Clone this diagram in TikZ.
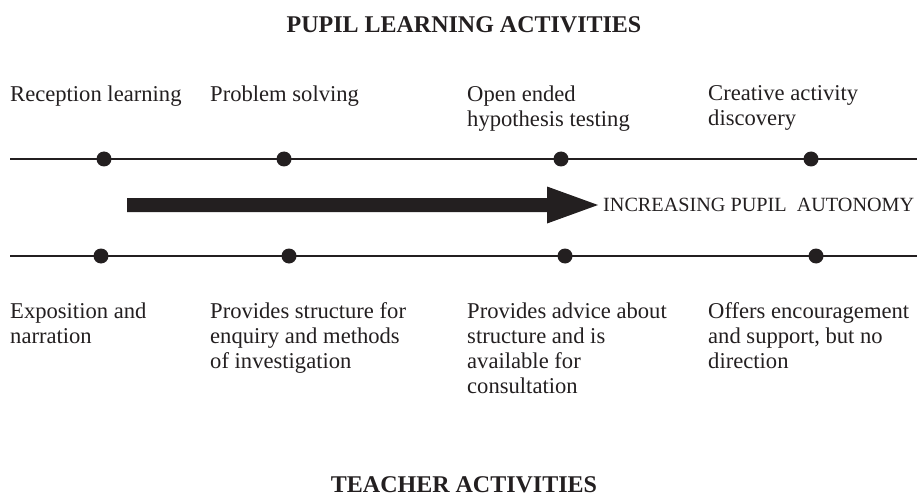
\documentclass[tikz,border=0pt]{standalone}
\usepackage{fontspec}
\setmainfont{Liberation Serif}
\usetikzlibrary{calc}
\definecolor{ink}{HTML}{231F20}
\begin{document}
\begin{tikzpicture}[x=1pt,y=-1pt,
  every node/.style={inner sep=0pt, text=ink},
  heading/.style={font=\fontsize{24}{28}\selectfont\bfseries, anchor=base},
  label/.style={font=\fontsize{22.6}{25}\selectfont, align=left, anchor=north west},
  caps/.style={font=\fontsize{20.2}{24}\selectfont, anchor=base west},
  rail/.style={draw=ink, line width=2pt},
  stop/.style={circle, fill=ink, minimum size=15pt, inner sep=0pt}]
\useasboundingbox (0,0) rectangle (917,497);

% headings
\node[heading] (pupil) at (464,33) {PUPIL LEARNING ACTIVITIES};
\node[heading] (teacher) at (464,492) {TEACHER ACTIVITIES};

% pupil activities (above the upper rail)
\node[label] (p1) at (10,85.5) {Reception learning};
\node[label] (p2) at (210,85.5) {Problem solving};
\node[label] (p3) at (467,85.5) {Open ended\\hypothesis testing};
\node[label] (p4) at (708,85.5) {Creative activity\\discovery};

% upper rail with its stops
\coordinate (ua) at (10,159);
\coordinate (ub) at (917,159);
\draw[rail] (ua) -- (ub);
\node[stop] (u1) at (104,159) {};
\node[stop] (u2) at (284,159) {};
\node[stop] (u3) at (561,159) {};
\node[stop] (u4) at (811,159) {};

% autonomy arrow
\node[caps] (auto) at (603,211) {INCREASING PUPIL\ \ AUTONOMY};
\coordinate (tail) at (127,205);
\coordinate (tip) at (598,205);
\fill[ink] ($(tail)+(0,-7)$) -- ($(tip)+(-51,-7)$) -- ($(tip)+(-51,-18.5)$) -- (tip)
  -- ($(tip)+(-51,18.5)$) -- ($(tip)+(-51,7)$) -- ($(tail)+(0,7)$) -- cycle;

% lower rail with its stops
\coordinate (la) at (10,256);
\coordinate (lb) at (917,256);
\draw[rail] (la) -- (lb);
\node[stop] (l1) at (101,256) {};
\node[stop] (l2) at (289,256) {};
\node[stop] (l3) at (565,256) {};
\node[stop] (l4) at (816,256) {};

% teacher activities (below the lower rail)
\node[label] (t1) at (10,302.5) {Exposition and\\narration};
\node[label] (t2) at (210,302.5) {Provides structure for\\enquiry and methods\\of investigation};
\node[label] (t3) at (467,302.5) {Provides advice about\\structure and is\\available for\\consultation};
\node[label] (t4) at (708,302.5) {Offers encouragement\\and support, but no\\direction};
\end{tikzpicture}
\end{document}
